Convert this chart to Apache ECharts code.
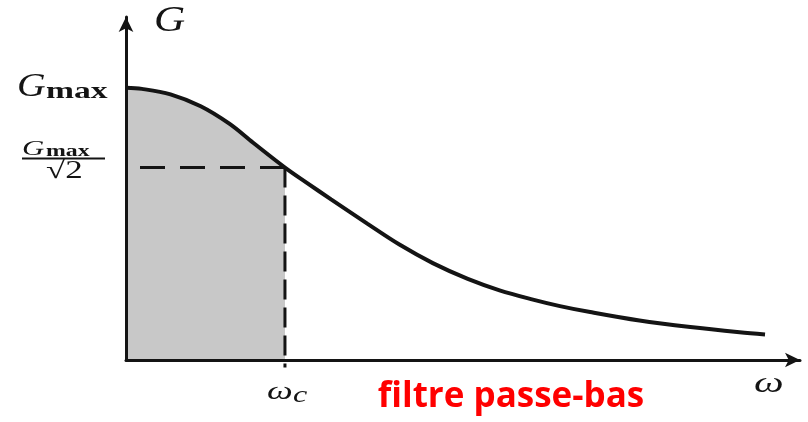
<!DOCTYPE html>
<html>
<head>
<meta charset="utf-8">
<script src="https://cdn.jsdelivr.net/npm/echarts@6/dist/echarts.min.js"></script>
<style>
  html, body { margin: 0; padding: 0; background: #ffffff; }
  #chart { width: 808px; height: 422px; }
</style>
</head>
<body>
<div id="chart"></div>
<script>
// Low-pass filter gain curve G(ω), ω in units of the cut-off ωc, G in units of Gmax
const curveOmega = [0, 0.10, 0.28, 0.47, 0.65, 0.80, 1.00, 1.14, 1.29, 1.52, 1.72,
                    1.93, 2.15, 2.35, 2.56, 2.73, 2.92, 3.23, 3.55, 3.86, 4.02];
const curveGain  = [1.000, 0.996, 0.976, 0.932, 0.868, 0.798, 0.707, 0.650, 0.590, 0.500, 0.424,
                    0.356, 0.298, 0.256, 0.222, 0.198, 0.176, 0.145, 0.121, 0.102, 0.094];

const wc = 1;                       // cut-off pulsation
const gMax = 1;                     // maximum gain
const gCut = gMax / Math.SQRT2;     // gain at the cut-off
const omegaMax = 4.24;              // end of the ω axis
const gainMax = 1.26;               // end of the G axis

const labelAxisG = 'G';
const labelGmaxBase = 'G';
const labelMaxSub = 'max';
const labelSqrt2 = '√2';
const labelOmega = 'ω';
const labelSubC = 'c';
const caption = 'filtre passe-bas';

const curve = curveOmega.map((w, i) => [w, curveGain[i]]);
const passBand = curve.filter(p => p[0] <= wc);

const ink = '#141414';
const chart = echarts.init(document.getElementById('chart'), null, { renderer: 'canvas' });

chart.setOption({
  animation: false,
  backgroundColor: '#ffffff',
  grid: { left: 126, right: 8, top: 17, bottom: 62 },
  xAxis: {
    type: 'value', min: 0, max: omegaMax, z: 5,
    splitLine: { show: false }, axisTick: { show: false }, axisLabel: { show: false },
    axisLine: { show: true, onZero: false, symbol: ['none', 'arrow'], symbolSize: [11, 15],
                lineStyle: { color: ink, width: 3 } }
  },
  yAxis: {
    type: 'value', min: 0, max: gainMax, z: 5,
    splitLine: { show: false }, axisTick: { show: false }, axisLabel: { show: false },
    axisLine: { show: true, onZero: false, symbol: ['none', 'arrow'], symbolSize: [11, 15],
                lineStyle: { color: ink, width: 3 } }
  },
  series: [
    { // shaded pass band
      type: 'line', data: passBand, smooth: 0.35, symbol: 'none',
      lineStyle: { width: 0 }, areaStyle: { color: '#c8c8c8', opacity: 1 }, z: 1
    },
    { // horizontal dashed line at Gmax/√2
      type: 'line', data: [[0, gCut], [wc, gCut]], symbol: 'none',
      lineStyle: { color: ink, width: 3, type: [25, 15], dashOffset: 26 }, z: 3
    },
    { // vertical dashed line at ωc
      type: 'line', data: [[wc, gCut], [wc, -0.028]], symbol: 'none', clip: false,
      lineStyle: { color: ink, width: 3, type: [20, 8] }, z: 3
    },
    { // gain curve
      type: 'line', data: curve, smooth: 0.35, symbol: 'none',
      lineStyle: { color: ink, width: 4 }, z: 4
    }
  ]
});

// Math labels placed from the axes' own scale
const px = (x, y) => chart.convertToPixel({ gridIndex: 0 }, [x, y]);
const origin = px(0, 0);
const pTop = px(0, gainMax);
const pMax = px(0, gMax);
const pCut = px(0, gCut);
const pWc = px(wc, 0);
const pEnd = px(omegaMax, 0);

function mathText(str, x, baseline, size, italic, weight, stretch) {
  return {
    type: 'text', x: x, y: baseline - 0.3 * size, scaleX: stretch || 1.4, originX: 0, originY: 0,
    style: {
      text: str, fill: ink, align: 'left', verticalAlign: 'middle',
      font: (italic ? 'italic ' : '') + (weight || 'normal') + ' ' + size + 'px "Liberation Serif"'
    },
    z: 10
  };
}

const graphics = [
  // axis names
  mathText(labelAxisG, pTop[0] + 28, pTop[1] + 15, 36, true, 'normal', 1.2),
  mathText(labelOmega, pEnd[0] - 46, origin[1] + 33, 30, true),
  // Gmax tick
  mathText(labelGmaxBase, pMax[0] - 109, pMax[1] + 9, 33, true, 'normal', 1.2),
  mathText(labelMaxSub, pMax[0] - 80, pMax[1] + 11, 24, false, 'bold'),
  // Gmax/√2 tick
  mathText(labelGmaxBase, pCut[0] - 104, pCut[1] - 12, 22, true),
  mathText(labelMaxSub, pCut[0] - 80, pCut[1] - 11, 17, false, 'bold'),
  {
    type: 'rect', shape: { x: pCut[0] - 104, y: pCut[1] - 10, width: 83, height: 2 },
    style: { fill: ink }, z: 10
  },
  mathText(labelSqrt2, pCut[0] - 80, pCut[1] + 11, 25, false),
  // ωc tick
  mathText(labelOmega, pWc[0] - 18, origin[1] + 40, 26, true),
  mathText(labelSubC, pWc[0] + 8, origin[1] + 43, 23, true),
  // caption
  {
    type: 'text', x: 511, y: 407 - 0.285 * 35,
    style: {
      text: caption, fill: '#ff0000', align: 'center', verticalAlign: 'middle',
      font: 'bold 35px "Open Sans"'
    },
    z: 10
  }
];
chart.setOption({ graphic: graphics });
</script>
</body>
</html>
